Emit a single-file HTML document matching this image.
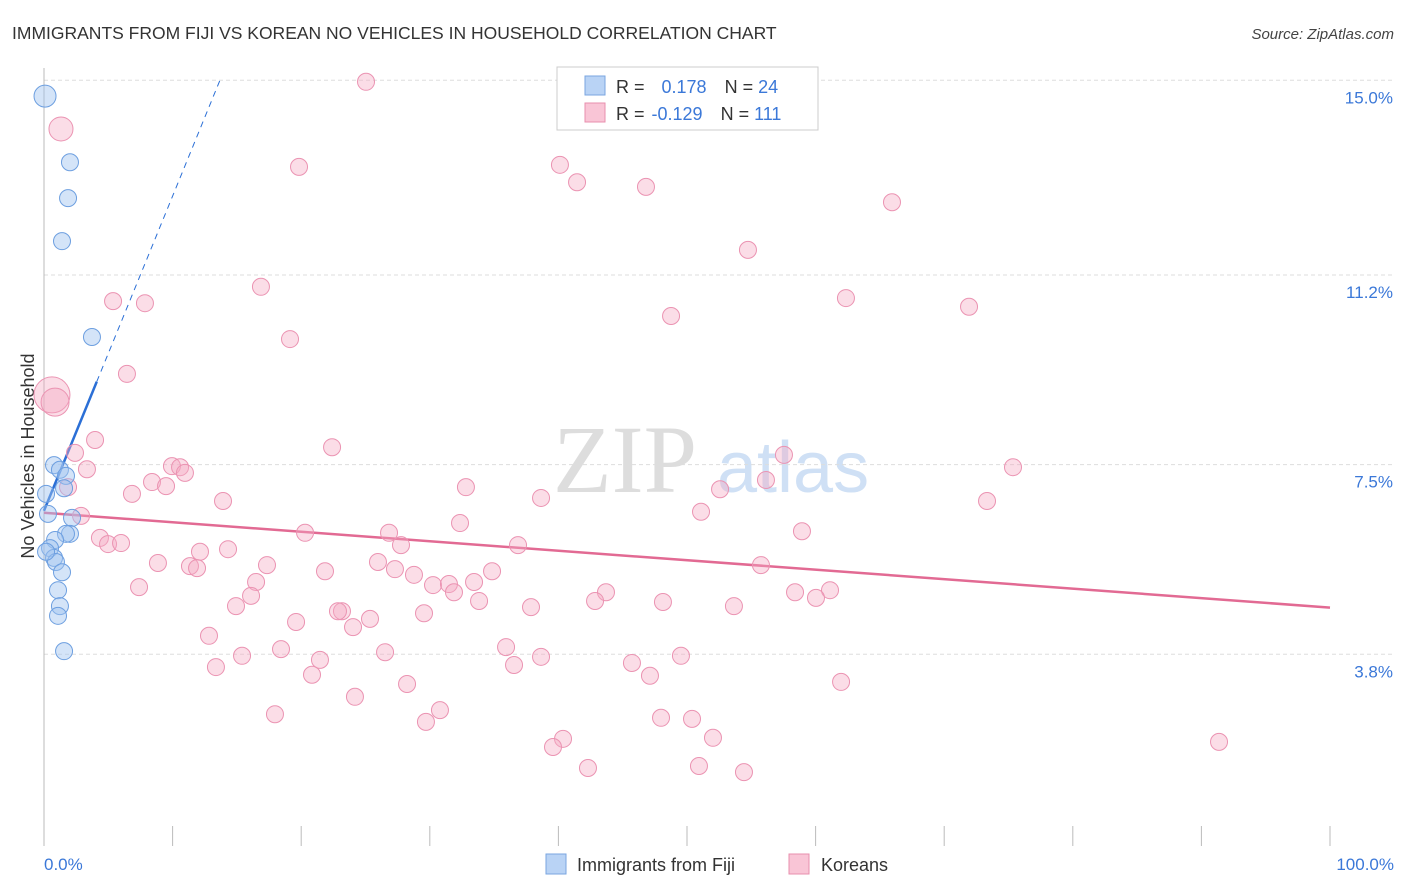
<!DOCTYPE html>
<html><head><meta charset="utf-8"><style>
body{margin:0;background:#fff;font-family:"Liberation Sans",sans-serif}
svg{display:block}
</style></head><body>
<svg id="chart" width="1406" height="892" viewBox="0 0 1406 892" font-family="Liberation Sans, sans-serif">
<text x="12" y="39" font-size="17.5" fill="#333">IMMIGRANTS FROM FIJI VS KOREAN NO VEHICLES IN HOUSEHOLD CORRELATION CHART</text>
<text x="1394" y="39" font-size="15" fill="#444" font-style="italic" text-anchor="end">Source: ZipAtlas.com</text>
<g>
<text x="553" y="492" font-size="96" fill="#ddd" font-family="Liberation Serif, serif">ZIP</text>
<text x="717" y="492" font-size="72" fill="#cfe0f5">atlas</text>
</g>
<text transform="translate(34,456) rotate(-90)" font-size="18" fill="#333" text-anchor="middle">No Vehicles in Household</text>
<g id="grid"></g><g id="ticks"></g><g id="trend"></g><g id="pts"></g>
<g>
<rect x="557" y="67" width="261" height="63" fill="#fff" stroke="#ccc"/>
<rect x="585" y="76" width="20" height="19" fill="#b9d3f5" stroke="#7aa6e0"/>
<rect x="585" y="103" width="20" height="19" fill="#f9c5d6" stroke="#e88fae"/>
<text x="616" y="93" font-size="18" fill="#333">R = <tspan fill="#3b78d8" dx="12">0.178</tspan><tspan dx="18">N = </tspan><tspan fill="#3b78d8">24</tspan></text>
<text x="616" y="120" font-size="18" fill="#333">R = <tspan fill="#3b78d8" dx="2">-0.129</tspan><tspan dx="18">N = </tspan><tspan fill="#3b78d8">111</tspan></text>
</g>
<g>
<rect x="546" y="854" width="20" height="20" fill="#b9d3f5" stroke="#7aa6e0"/>
<text x="577" y="871" font-size="18" fill="#333">Immigrants from Fiji</text>
<rect x="789" y="854" width="20" height="20" fill="#f9c5d6" stroke="#e88fae"/>
<text x="821" y="871" font-size="18" fill="#333">Koreans</text>
</g>
</svg>
<script>
const yTicks=[15.0,11.2,7.5,3.8];
const yTickLabels=["15.0%","11.2%","7.5%","3.8%"];
const xTickLabels=["0.0%","100.0%"];
const fijiX=[0.08,2.02,1.87,1.40,3.73,0.78,1.24,1.71,1.56,0.16,0.31,2.18,2.02,1.71,0.86,0.47,0.78,0.93,1.40,1.09,1.24,1.09,1.56,0.16];
const fijiY=[14.69,13.40,12.70,11.86,9.99,7.49,7.40,7.28,7.04,6.93,6.54,6.46,6.15,6.15,6.03,5.87,5.68,5.60,5.40,5.05,4.74,4.55,3.86,5.80];
const korX=[25.04,1.32,19.83,40.12,41.45,46.81,65.94,54.74,16.87,5.37,7.85,62.36,71.93,48.76,19.13,6.45,0.62,0.86,3.97,22.40,2.41,57.54,9.95,10.58,3.34,10.96,75.35,8.40,9.49,1.87,32.81,52.57,56.14,6.84,13.92,38.65,73.33,51.09,2.88,32.35,26.83,20.30,58.94,4.35,4.98,5.99,27.76,36.86,14.31,12.13,8.86,11.35,11.90,17.34,25.97,55.75,21.85,27.29,28.77,34.84,16.49,30.25,31.49,33.44,31.88,43.70,7.39,16.10,58.40,61.12,33.83,60.03,14.93,42.85,48.13,53.65,37.87,23.17,22.86,25.35,29.55,19.60,24.03,12.83,18.43,35.93,26.52,15.40,21.46,38.65,49.53,45.72,13.37,36.55,20.84,47.12,61.98,28.23,24.18,17.96,30.79,29.70,47.98,50.39,40.36,39.58,52.02,91.37,42.30,50.93,54.43];
const korY=[14.97,14.05,13.31,13.35,13.01,12.92,12.62,11.69,10.97,10.69,10.65,10.75,10.58,10.40,9.95,9.27,8.86,8.72,7.98,7.84,7.73,7.69,7.47,7.45,7.41,7.34,7.45,7.16,7.08,7.06,7.06,7.02,7.20,6.93,6.79,6.85,6.79,6.58,6.50,6.36,6.17,6.17,6.20,6.07,5.95,5.97,5.93,5.93,5.85,5.80,5.58,5.52,5.48,5.54,5.60,5.54,5.42,5.46,5.35,5.42,5.21,5.15,5.17,5.21,5.01,5.01,5.11,4.94,5.01,5.05,4.84,4.90,4.74,4.84,4.82,4.74,4.72,4.64,4.64,4.49,4.60,4.43,4.33,4.16,3.90,3.94,3.84,3.77,3.69,3.75,3.77,3.63,3.55,3.59,3.40,3.38,3.26,3.22,2.97,2.63,2.71,2.48,2.56,2.54,2.15,1.99,2.17,2.09,1.58,1.62,1.50];
const fijiTrend=[6.60,0.614]; // intercept, slope
const korTrend=[6.56,-0.0185];
const X=v=>44+v*12.86, Y=v=>849-v*51.25;
const NS="http://www.w3.org/2000/svg";
function mk(tag,parent,attrs){const e=document.createElementNS(NS,tag);for(const k in attrs)e.setAttribute(k,attrs[k]);document.getElementById(parent).appendChild(e);return e;}
yTicks.forEach((t,i)=>{
 const g=mk('line','grid',{x1:44,x2:1394,y1:Y(t),y2:Y(t),stroke:'#ddd','stroke-dasharray':'4 3'});
 
 
 const l=mk('text','ticks',{x:1393,y:Y(t)+23,'font-size':17,fill:'#3b78d8','text-anchor':'end'});
 l.textContent=yTickLabels[i];
 
 
});
const ax=mk('line','ticks',{x1:44,x2:44,y1:68,y2:846,stroke:'#bbb'});


for(let i=0;i<=10;i++){
 const t=mk('line','ticks',{x1:X(i*10),x2:X(i*10),y1:826,y2:846,stroke:'#bbb'});
 
 
}
[[0,'start',44],[100,'end',1394]].forEach((d,i)=>{
 const l=mk('text','ticks',{x:d[2],y:870,'font-size':17,fill:'#3b78d8','text-anchor':d[1]});
 l.textContent=xTickLabels[i];
 
 
});
korX.forEach((x,i)=>{
 const r=i==16?18:i==17?14:i==1?12:8.5;
 const c=mk('circle','pts',{cx:X(x),cy:Y(korY[i]),r:r,fill:'rgba(246,170,196,0.4)',stroke:'#eb93b2','stroke-width':1});
 
 
});
fijiX.forEach((x,i)=>{
 const c=mk('circle','pts',{cx:X(x),cy:Y(fijiY[i]),r:i==0?11:8.5,fill:'rgba(160,196,240,0.45)',stroke:'#6d9fe0','stroke-width':1});
 
 
});
const fy=x=>fijiTrend[0]+fijiTrend[1]*x, ky=x=>korTrend[0]+korTrend[1]*x;
const a=mk('line','trend',{x1:X(0),y1:Y(fy(0)),x2:X(4.1),y2:Y(fy(4.1)),stroke:'#2b6fd6','stroke-width':2.5});


const xe=(15-fijiTrend[0])/fijiTrend[1];
const b=mk('line','trend',{x1:X(4.1),y1:Y(fy(4.1)),x2:X(xe),y2:Y(fy(xe)),stroke:'#2b6fd6','stroke-width':1,'stroke-dasharray':'6 5'});


const c=mk('line','trend',{x1:X(0),y1:Y(ky(0)),x2:X(100),y2:Y(ky(100)),stroke:'#e26a93','stroke-width':2.5});


</script>
</body></html>
